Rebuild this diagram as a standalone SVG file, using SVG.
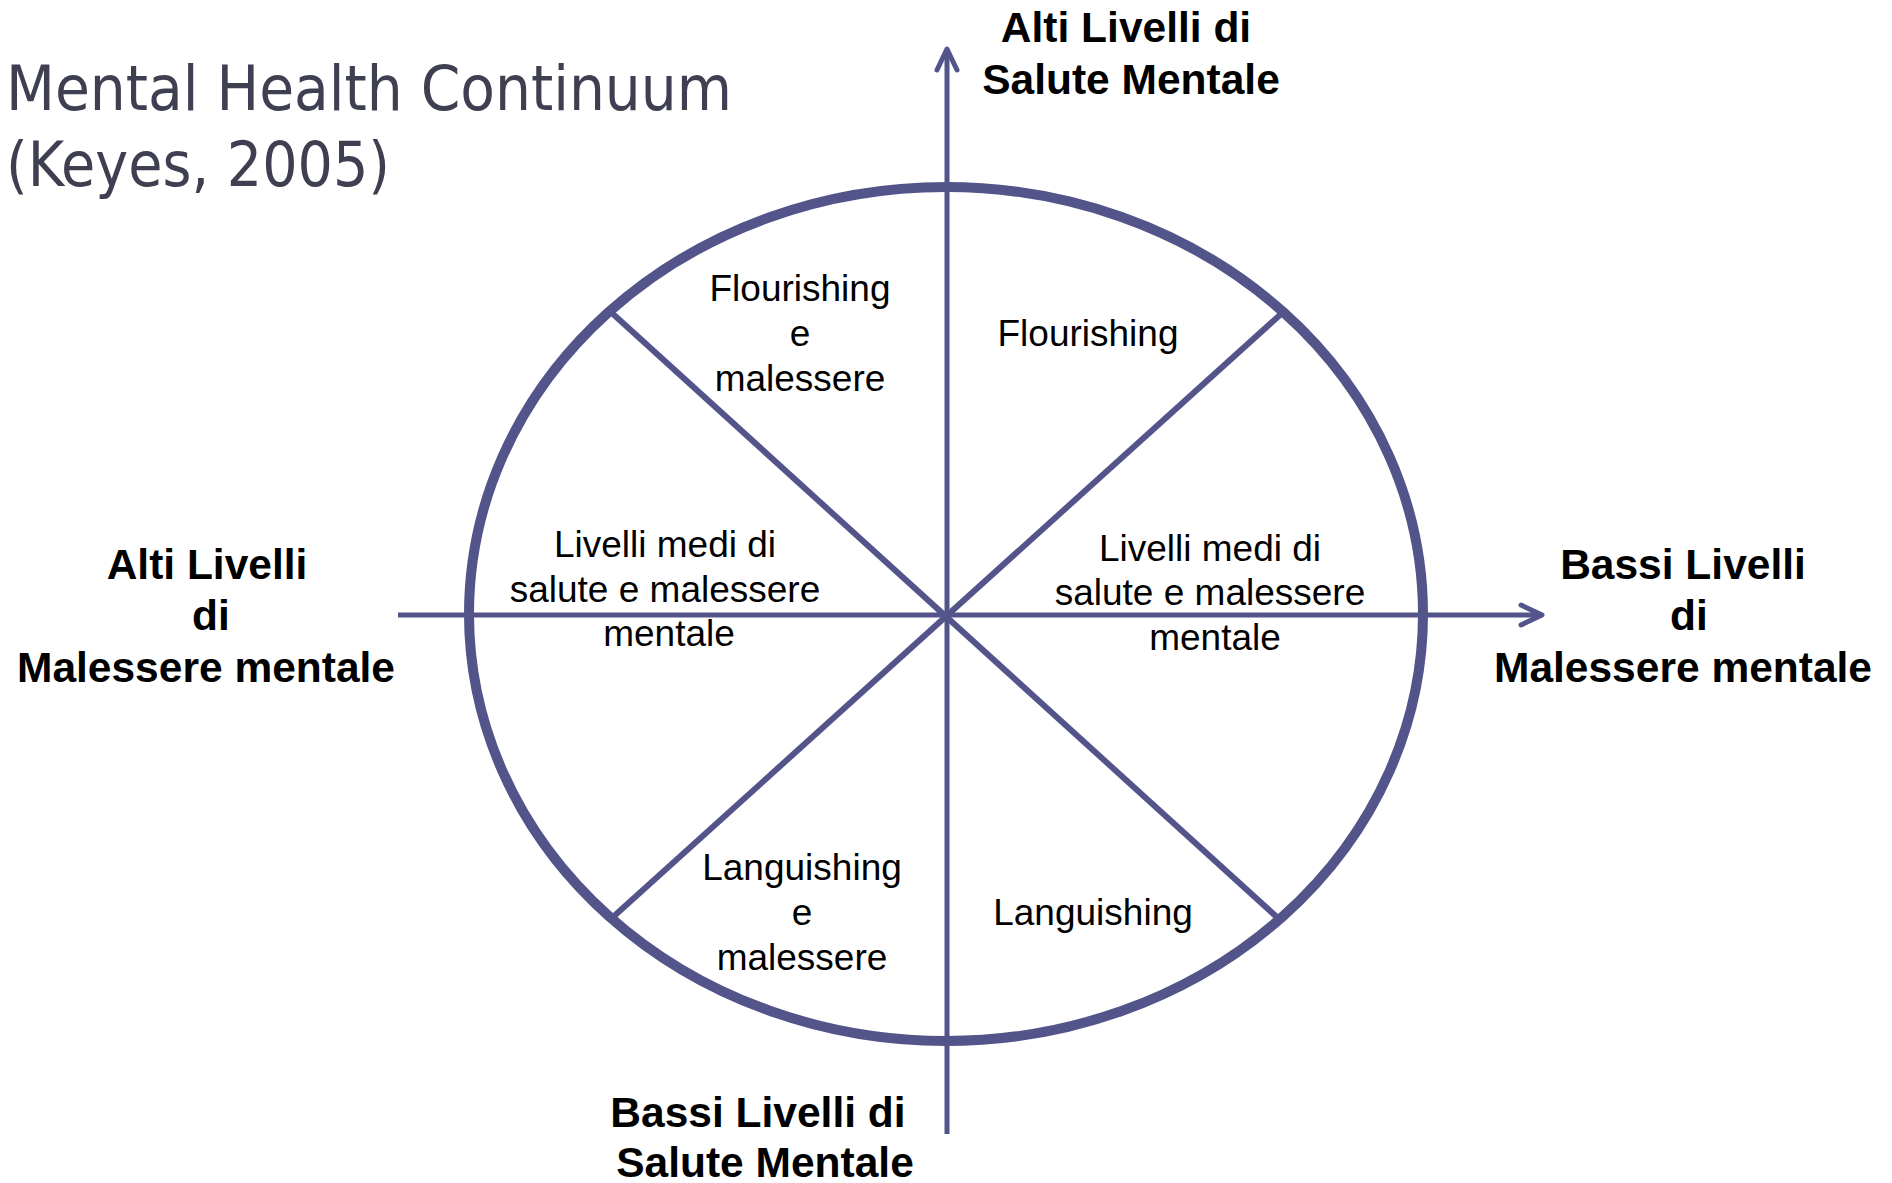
<svg xmlns="http://www.w3.org/2000/svg" width="1892" height="1183" viewBox="0 0 1892 1183">
<defs>
<style>
.title{font-family:"DejaVu Sans Condensed","DejaVu Sans",sans-serif;font-size:62px;fill:#3f3f52}
.bold{font-family:"Liberation Sans",Arial,sans-serif;font-weight:bold;font-size:42.5px;fill:#000;text-anchor:middle}
.reg{font-family:"Liberation Sans",Arial,sans-serif;font-size:37px;fill:#000;text-anchor:middle}
.axis{stroke:#53548a;stroke-width:5;fill:none}
.div{stroke:#53548a;stroke-width:6;fill:none}
.ring{stroke:#53548a;stroke-width:10;fill:none}
</style>
<marker id="arrow" markerUnits="userSpaceOnUse" viewBox="-30 -15 40 30" refX="0" refY="0" markerWidth="40" markerHeight="30" orient="auto" overflow="visible">
<path d="M-21,-10 L0,0 L-21,10" fill="none" stroke="#53548a" stroke-width="5" stroke-linecap="round" stroke-linejoin="round"/>
</marker>
</defs>
<rect width="1892" height="1183" fill="#fff"/>
<g id="title">
<text class="title" x="6" y="110" textLength="726" lengthAdjust="spacingAndGlyphs">Mental Health Continuum</text>
<text class="title" x="6" y="186" textLength="384" lengthAdjust="spacingAndGlyphs">(Keyes, 2005)</text>
</g>
<g id="connectors">
<ellipse class="ring" cx="946" cy="614" rx="477" ry="427"/>
<line class="div" x1="613" y1="314" x2="1279" y2="919"/>
<line class="div" x1="1281" y1="314" x2="613" y2="917"/>
<line class="axis" x1="947" y1="1134" x2="947" y2="49" marker-end="url(#arrow)"/>
<line class="axis" x1="398" y1="615" x2="1542" y2="615" marker-end="url(#arrow)"/>
</g>
<g id="top-label">
<text class="bold" x="1126" y="42">Alti Livelli di</text>
<text class="bold" x="1131" y="94">Salute Mentale</text>
</g>
<g id="left-label">
<text class="bold" x="207" y="579">Alti Livelli</text>
<text class="bold" x="211" y="630">di</text>
<text class="bold" x="206" y="682">Malessere mentale</text>
</g>
<g id="right-label">
<text class="bold" x="1683" y="579">Bassi Livelli</text>
<text class="bold" x="1689" y="630">di</text>
<text class="bold" x="1683" y="682">Malessere mentale</text>
</g>
<g id="bottom-label">
<text class="bold" x="758" y="1127">Bassi Livelli di</text>
<text class="bold" x="765" y="1177">Salute Mentale</text>
</g>
<g id="flourishing-malessere">
<text class="reg" x="800" y="301">Flourishing</text>
<text class="reg" x="800" y="346">e</text>
<text class="reg" x="800" y="391">malessere</text>
</g>
<g id="flourishing">
<text class="reg" x="1088" y="346">Flourishing</text>
</g>
<g id="medi-left">
<text class="reg" x="665" y="557">Livelli medi di</text>
<text class="reg" x="665" y="602">salute e malessere</text>
<text class="reg" x="669" y="646">mentale</text>
</g>
<g id="medi-right">
<text class="reg" x="1210" y="561">Livelli medi di</text>
<text class="reg" x="1210" y="605">salute e malessere</text>
<text class="reg" x="1215" y="650">mentale</text>
</g>
<g id="languishing-malessere">
<text class="reg" x="802" y="880">Languishing</text>
<text class="reg" x="802" y="925">e</text>
<text class="reg" x="802" y="970">malessere</text>
</g>
<g id="languishing">
<text class="reg" x="1093" y="925">Languishing</text>
</g>
</svg>
